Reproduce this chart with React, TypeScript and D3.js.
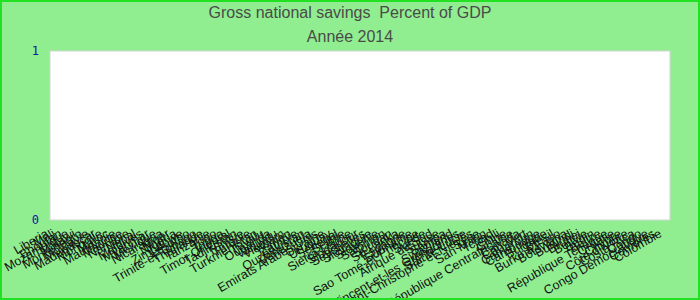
import React from "react";
import * as d3 from "d3";

const TITLE = "Gross national savings  Percent of GDP";
const SUBTITLE = "Année 2014";

const countries: string[] = [
  "Liberia", "Mali", "Bhoutan", "Mozambique", "Malawi", "Montenegro", "Moldavie",
  "Madagascar", "Mongolie", "Maroc", "Mauritanie", "Maurice", "Namibie", "Népal",
  "Maldives", "Myanmar", "Mexique", "Nicaragua", "Niger", "Nigeria", "Zimbabwe",
  "Lesotho", "Trinité-et-Tobago", "Thaïlande", "Tanzanie", "Togo", "Tonga",
  "Timor Oriental", "Tadjikistan", "Tunisie", "Turquie", "Turkménistan", "Tuvalu",
  "Ouganda", "Vanuatu", "Vietnam", "Yémen", "Zambie", "Ouzbékistan", "Venezuela",
  "Emirats Arabes Unis", "Ukraine", "Uruguay", "Sénégal", "Serbie", "Sierra Leone",
  "Singapour", "Seychelles", "Slovaquie", "Slovénie", "Salomon", "Soudan",
  "Sri Lanka", "Espagne", "Suriname", "Sao Tomé-et-Principe", "Suède",
  "Afrique du Sud", "Suisse", "Samoa", "Swaziland", "Saint-Vincent-et-les Grenadines",
  "Sainte-Lucie", "Saint-Christophe-et-Niévès", "Syrie", "San Marin", "Tchad",
  "Chili", "Chine", "République Centrafricaine", "Canada", "Cap-Vert", "Cameroun",
  "Cambodge", "Bulgarie", "Brésil", "Burkina Faso", "Botswana", "Burundi", "Brunei",
  "Bolivie", "Bénin", "Belize", "République Tchèque", "Croatie", "Chypre",
  "Côte d'Ivoire", "Costa Rica", "Congo", "Congo Démocratique", "Comores", "Colombie",
];

const yDomain: [number, number] = [0, 1];
const yTicks: number[] = [0, 1];

const W = 700;
const H = 300;
const M = { left: 50, right: 30, top: 51, bottom: 80 };

export default function App() {
  const x = d3
    .scalePoint<string>()
    .domain(countries)
    .range([M.left, W - M.right])
    .padding(0.5);
  const y = d3.scaleLinear().domain(yDomain).range([H - M.bottom, M.top]);
  const plotW = W - M.left - M.right;
  const plotH = H - M.top - M.bottom;

  return (
    <svg
      width={W}
      height={H}
      style={{ position: "absolute", left: 0, top: 0 }}
      fontFamily="'Liberation Sans', Arial, sans-serif"
    >
      <defs>
        <clipPath id="clipAll">
          <rect x={0} y={0} width={W} height={H} />
        </clipPath>
      </defs>
      <rect x={0} y={0} width={W} height={H} fill="#90ee90" />
      <rect
        x={M.left}
        y={M.top}
        width={plotW}
        height={plotH}
        fill="#ffffff"
        stroke="#d4d4d4"
        strokeWidth={1}
      />
      <text
        x={W / 2}
        y={18}
        textAnchor="middle"
        fontSize={16}
        fill="#4a4a4a"
        style={{ whiteSpace: "pre" }}
      >
        {TITLE}
      </text>
      <text x={W / 2} y={42} textAnchor="middle" fontSize={16} fill="#4a4a4a">
        {SUBTITLE}
      </text>
      {yTicks.map((t) => (
        <text
          key={t}
          x={M.left - 11}
          y={y(t)}
          dy="0.35em"
          textAnchor="end"
          fontSize={12}
          fontFamily="'DejaVu Sans Mono', monospace"
          fill="#1414a8"
        >
          {t}
        </text>
      ))}
      <g clipPath="url(#clipAll)">
        {countries.map((c) => (
          <text
            key={c}
            transform={`translate(${(x(c) ?? 0) - 4},${y(0) + 16}) rotate(-30)`}
            textAnchor="end"
            fontSize={12.5}
            fill="#111"
          >
            {c}
          </text>
        ))}
      </g>
      <rect
        x={1}
        y={1}
        width={W - 2}
        height={H - 2}
        fill="none"
        stroke="#22e022"
        strokeWidth={2}
      />
    </svg>
  );
}
